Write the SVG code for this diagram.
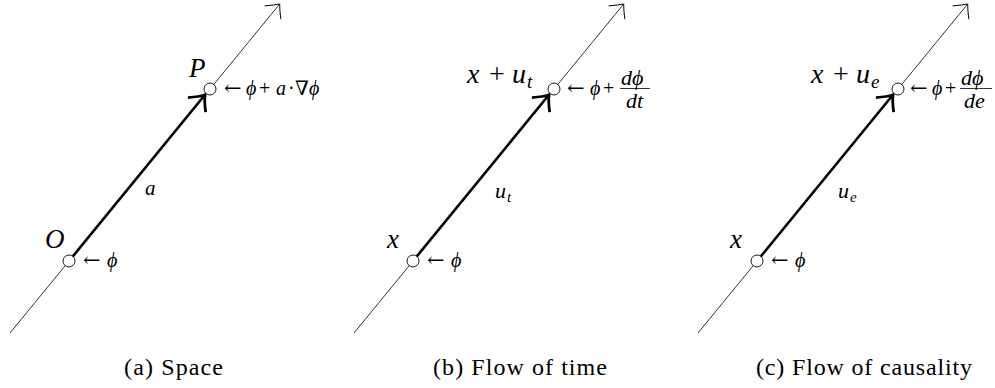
<svg xmlns="http://www.w3.org/2000/svg" width="995" height="388" viewBox="0 0 995 388">
<style>
text{font-family:"Liberation Serif","DejaVu Serif",serif;fill:#000}
.i{font-style:italic}
.big{font-size:27px}
.lab{font-size:20px}
.ar{font-family:"DejaVu Serif",serif;font-size:21px;font-style:normal}
.cap{font-size:24px}
.thin{stroke:#000;stroke-width:0.8;fill:none}
.thick{stroke:#000;stroke-width:2.6;fill:none}
.pt{fill:#fff;stroke:#000;stroke-width:0.9}
</style>
<defs>
<marker id="ah" markerUnits="userSpaceOnUse" orient="auto" refX="0" refY="0" markerWidth="30" markerHeight="30" overflow="visible">
<path d="M-11,-10.5 Q-4,-3 0,0 Q-4,3 -11,10.5" fill="none" stroke="#000" stroke-width="0.9"/>
</marker>
<marker id="ahb" markerUnits="userSpaceOnUse" orient="auto" refX="0" refY="0" markerWidth="40" markerHeight="40" overflow="visible">
<path d="M-13,-11.5 Q-5,-3 0,0 Q-5,3 -13,11.5" fill="none" stroke="#000" stroke-width="2.8"/>
</marker>
</defs>
<g id="connectors">
<path class="thin" d="M10,333 L279.7,4" marker-end="url(#ah)"/>
<path class="thick" d="M72.8,256.4 L205,94.8" marker-end="url(#ahb)"/>
<path class="thin" d="M354,333 L623.7,4" marker-end="url(#ah)"/>
<path class="thick" d="M416.8,256.4 L549,94.8" marker-end="url(#ahb)"/>
<path class="thin" d="M698,333 L967.7,4" marker-end="url(#ah)"/>
<path class="thick" d="M760.8,256.4 L893,94.8" marker-end="url(#ahb)"/>
</g>
<g id="edge-label-a"><text class="i" x="145" y="195" font-size="21">a</text></g>
<g id="edge-label-ut"><text x="495" y="198"><tspan class="i" font-size="22">u</tspan><tspan class="i" x="507" y="202" font-size="15">t</tspan></text></g>
<g id="edge-label-ue"><text x="838" y="198"><tspan class="i" font-size="22">u</tspan><tspan class="i" x="850" y="202" font-size="15">e</tspan></text></g>
<g id="node-O">
<circle class="pt" cx="69" cy="261" r="6"/>
<text class="i big" x="45" y="248">O</text>
<text class="lab" y="267"><tspan class="ar" x="83">←</tspan><tspan class="i" x="107">ϕ</tspan></text>
</g>
<g id="node-P">
<circle class="pt" cx="210" cy="89" r="6"/>
<text class="i big" x="189" y="77">P</text>
<text class="lab" y="95"><tspan class="ar" x="224">←</tspan><tspan class="i" x="246">ϕ</tspan><tspan x="259">+</tspan><tspan class="i" x="276">a</tspan><tspan x="288">·</tspan><tspan x="295">∇</tspan><tspan class="i" x="309">ϕ</tspan></text>
</g>
<g id="node-xb">
<circle class="pt" cx="413" cy="261" r="6"/>
<text class="i big" x="387" y="248">x</text>
<text class="lab" y="267"><tspan class="ar" x="427">←</tspan><tspan class="i" x="451">ϕ</tspan></text>
</g>
<g id="node-xut">
<circle class="pt" cx="554" cy="89" r="6"/>
<text font-size="28" y="83"><tspan class="i" x="467">x</tspan><tspan x="489">+</tspan><tspan class="i" x="512">u</tspan><tspan class="i" x="527" y="88" font-size="19">t</tspan></text>
<text class="lab" y="95"><tspan class="ar" x="567">←</tspan><tspan class="i" x="590">ϕ</tspan><tspan x="603">+</tspan></text>
<text class="i" font-size="22" x="621" y="85">dϕ</text>
<line x1="620" y1="88.5" x2="650" y2="88.5" stroke="#000" stroke-width="0.8"/>
<text class="i" font-size="22" x="626" y="108">dt</text>
</g>
<g id="node-xc">
<circle class="pt" cx="757" cy="261" r="6"/>
<text class="i big" x="730" y="248">x</text>
<text class="lab" y="267"><tspan class="ar" x="771">←</tspan><tspan class="i" x="795">ϕ</tspan></text>
</g>
<g id="node-xue">
<circle class="pt" cx="898" cy="89" r="6"/>
<text font-size="28" y="83"><tspan class="i" x="811">x</tspan><tspan x="833">+</tspan><tspan class="i" x="856">u</tspan><tspan class="i" x="871" y="88" font-size="19">e</tspan></text>
<text class="lab" y="95"><tspan class="ar" x="910">←</tspan><tspan class="i" x="932">ϕ</tspan><tspan x="945">+</tspan></text>
<text class="i" font-size="22" x="961" y="85">dϕ</text>
<line x1="960" y1="88.5" x2="992" y2="88.5" stroke="#000" stroke-width="0.8"/>
<text class="i" font-size="22" x="964" y="108">de</text>
</g>
<g id="captions">
<text class="cap" x="173.5" y="375" text-anchor="middle" textLength="99" lengthAdjust="spacing">(a) Space</text>
<text class="cap" x="520" y="375" text-anchor="middle" textLength="174" lengthAdjust="spacing">(b) Flow of time</text>
<text class="cap" x="864" y="375" text-anchor="middle" textLength="216" lengthAdjust="spacing">(c) Flow of causality</text>
</g>
</svg>
